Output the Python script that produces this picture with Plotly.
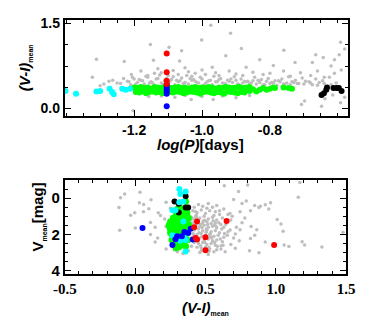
import plotly.graph_objects as go

# ---- top panel: log(P) vs (V-I)mean ----
gray_top_x = [-0.974, -0.916, -1.152, -1.097, -1.001, -0.884, -0.759, -0.592, -0.58,
              -1.311, -1.229, -1.143, -1.066, -0.97, -0.87, -0.79, -0.726, -0.675, -0.643,
              -0.62, -0.61, -0.596, -0.665, -1.06, -0.93, -0.83,
              -1.208, -1.323, -1.263, -1.13, -1.12, -1.085, -1.05, -1.04, -1.02, -1.0, -0.99,
              -0.96, -0.95, -0.92, -0.90, -0.88, -0.85, -0.82, -0.80, -0.76, -0.74, -0.71,
              -0.68, -0.66, -0.64, -0.61, -0.59, -1.18, -1.16, -1.14, -1.10, -1.07, -1.03,
              -1.24, -1.22, -1.21, -1.20, -1.19, -1.18, -1.17, -1.16, -1.15, -1.14, -1.13,
              -1.12, -1.11, -1.10, -1.09, -1.08, -1.07, -1.06, -1.05, -1.04, -1.03, -1.02,
              -1.01, -1.00, -0.99, -0.98, -0.97, -0.96, -0.95, -0.94, -0.93, -0.92, -0.91,
              -0.90, -0.89, -0.88, -0.87, -0.86, -0.85, -0.84, -0.83, -0.82, -0.81, -0.80,
              -0.79, -0.78, -0.77, -0.76, -0.75, -0.74, -0.73, -0.72, -0.70, -0.68, -0.66,
              -0.64, -0.62,
              -1.215, -1.195, -1.175, -1.155, -1.135, -1.115, -1.095, -1.075, -1.055, -1.035,
              -1.015, -0.995, -0.975, -0.955, -0.935, -0.915, -0.895, -0.875, -0.855, -0.835,
              -0.815, -0.795, -0.775, -0.755, -0.735, -0.715, -0.695, -0.675, -0.655,
              -1.205, -1.185, -1.165, -1.145, -1.125, -1.105, -1.085, -1.065, -1.045, -1.025,
              -1.005, -0.985, -0.965, -0.945, -0.925, -0.905, -0.885, -0.865, -0.845, -0.825,
              -0.805, -0.785, -0.765, -0.745, -0.725, -0.705, -0.685, -0.665, -0.645, -0.625,
              -0.605,
              -1.157, -1.032, -0.967, -1.12, -1.08, -1.0, -0.94, -0.9, -0.698, -0.707,
              -0.648, -0.638, -0.615, -0.592, -1.203, -0.58, -1.05, -0.86,
              -1.289, -1.274, -1.231, -1.25, -1.30]
gray_top_y = [1.47, 1.33, 1.13, 1.08, 1.21, 1.06, 1.03, 1.17, 1.05,
              0.87, 0.83, 0.85, 0.84, 0.73, 0.73, 0.76, 0.81, 0.81, 0.90,
              0.75, 0.86, 0.95, 0.95, 1.02, 0.93, 0.86,
              0.60, 0.55, 0.50, 0.70, 0.63, 0.67, 0.72, 0.65, 0.62, 0.68, 0.60,
              0.63, 0.58, 0.66, 0.61, 0.58, 0.64, 0.60, 0.62, 0.66, 0.57, 0.63,
              0.58, 0.66, 0.55, 0.62, 0.68, 0.66, 0.58, 0.62, 0.58, 0.60, 0.57,
              0.44, 0.48, 0.42, 0.52, 0.46, 0.50, 0.43, 0.55, 0.47, 0.41, 0.53,
              0.45, 0.49, 0.44, 0.51, 0.42, 0.47, 0.54, 0.46, 0.43, 0.50, 0.48,
              0.45, 0.52, 0.44, 0.49, 0.42, 0.47, 0.51, 0.45, 0.43, 0.48, 0.46,
              0.50, 0.42, 0.45, 0.47, 0.44, 0.49, 0.43, 0.46, 0.42, 0.48, 0.44,
              0.45, 0.41, 0.47, 0.43, 0.45, 0.42, 0.46, 0.44, 0.43, 0.45, 0.41,
              0.44, 0.42,
              0.47, 0.43, 0.49, 0.45, 0.52, 0.42, 0.48, 0.50, 0.44, 0.53,
              0.46, 0.41, 0.50, 0.47, 0.44, 0.52, 0.43, 0.48, 0.45, 0.50,
              0.42, 0.46, 0.49, 0.43, 0.47, 0.44, 0.48, 0.42, 0.46,
              0.55, 0.51, 0.57, 0.45, 0.59, 0.53, 0.56, 0.49, 0.58, 0.51,
              0.55, 0.47, 0.57, 0.53, 0.50, 0.56, 0.52, 0.48, 0.55, 0.51,
              0.53, 0.49, 0.52, 0.56, 0.50, 0.54, 0.47, 0.52, 0.49, 0.55,
              0.45,
              0.21, 0.16, 0.16, 0.22, 0.20, 0.21, 0.22, 0.19, 0.13, 0.07,
              0.04, 0.17, 0.24, 0.10, -0.04, 0.20, 0.23, 0.23,
              0.43, 0.48, 0.53, 0.45, 0.40]

green_top_x = [-1.20, -1.19, -1.18, -1.17, -1.16, -1.15, -1.14, -1.13, -1.12, -1.11,
               -1.10, -1.09, -1.08, -1.07, -1.06, -1.05, -1.04, -1.03, -1.02, -1.01,
               -1.00, -0.99, -0.98, -0.97, -0.96, -0.95, -0.94, -0.93, -0.92, -0.91,
               -0.90, -0.89, -0.88, -0.87, -0.86,
               -1.195, -1.185, -1.175, -1.165, -1.155, -1.145, -1.135, -1.125, -1.115,
               -1.105, -1.095, -1.085, -1.075, -1.065, -1.055, -1.045, -1.035, -1.025,
               -1.015, -1.005, -0.995, -0.985, -0.975, -0.965, -0.955, -0.945, -0.935,
               -0.925, -0.915, -0.905, -0.895, -0.885, -0.875,
               -0.86, -0.85, -0.84, -0.83, -0.82, -0.81, -0.80, -0.79, -0.785, -0.76,
               -0.745, -0.735]
green_top_y = [0.37, 0.36, 0.38, 0.36, 0.37, 0.35, 0.38, 0.37, 0.36, 0.38,
               0.37, 0.36, 0.37, 0.38, 0.36, 0.37, 0.35, 0.37, 0.38, 0.36,
               0.37, 0.36, 0.38, 0.37, 0.35, 0.37, 0.36, 0.38, 0.37, 0.36,
               0.37, 0.38, 0.36, 0.37, 0.38,
               0.29, 0.28, 0.30, 0.27, 0.29, 0.30, 0.28, 0.29, 0.27,
               0.30, 0.29, 0.28, 0.30, 0.29, 0.27, 0.28, 0.30, 0.29,
               0.28, 0.26, 0.29, 0.30, 0.28, 0.27, 0.29, 0.28, 0.26,
               0.30, 0.29, 0.28, 0.27, 0.29, 0.28,
               0.31, 0.34, 0.30, 0.33, 0.36, 0.33, 0.35, 0.37, 0.36, 0.37,
               0.36, 0.35]

cyan_top_x = [-1.402, -1.371, -1.311, -1.300, -1.272, -1.265, -1.260, -1.235, -1.225, -1.212]
cyan_top_y = [0.31, 0.26, 0.30, 0.31, 0.35, 0.29, 0.25, 0.35, 0.33, 0.35]

black_top_x = [-0.648, -0.641, -0.634, -0.632, -0.613, -0.604, -0.597, -0.589]
black_top_y = [0.24, 0.27, 0.33, 0.37, 0.36, 0.36, 0.36, 0.31]

red_top_x = [-1.104, -1.104, -1.104, -1.104]
red_top_y = [0.97, 0.64, 0.49, 0.43]

blue_top_x = [-1.104, -1.104, -1.104, -1.104, -1.104, -1.104]
blue_top_y = [0.42, 0.38, 0.34, 0.30, 0.26, 0.04]

# ---- bottom panel: (V-I)mean vs Vmean ----
gray_bot_x = [0.38, 0.41, 0.44, 0.47, 0.50, 0.53, 0.56, 0.60, 0.40, 0.43, 0.46, 0.49,
              0.52, 0.55, 0.58, 0.62, 0.39, 0.42, 0.45, 0.48, 0.51, 0.54, 0.57, 0.61,
              0.65, 0.40, 0.43, 0.46, 0.49, 0.52, 0.55, 0.58, 0.63, 0.39, 0.42, 0.45,
              0.48, 0.51, 0.54, 0.57, 0.60, 0.66, 0.41, 0.44, 0.47, 0.50, 0.53, 0.56,
              0.59, 0.63, 0.40, 0.43, 0.46, 0.49, 0.52, 0.55, 0.58, 0.62, 0.42, 0.45,
              0.48, 0.51, 0.54, 0.57, 0.44, 0.47, 0.50, 0.53, 0.46, 0.52, 0.58, 0.68,
              0.70, 0.72, 0.68, 0.66, 0.63, 0.55, 0.48, 0.42, 0.58, 0.45, 0.52, 0.60,
              0.40, 0.38, 0.34, 0.30, 0.28, 0.22, 0.26, 0.445, 0.475, 0.505, 0.535,
              0.565, 0.415, 0.385, 0.435, 0.465, 0.495, 0.525,
              0.395, 0.425, 0.455, 0.485, 0.515, 0.545, 0.575, 0.605, 0.635, 0.415,
              0.445, 0.475, 0.505, 0.535, 0.565, 0.595, 0.625, 0.655, 0.405, 0.435,
              0.465, 0.495, 0.525, 0.555, 0.585, 0.615, 0.645, 0.675, 0.43, 0.51,
              0.57, 0.47, 0.56, 0.61, 0.69, 0.74, 0.76, 0.64,
              0.634, 0.80, 1.171, 1.16, 0.735, 0.70, 0.76, 0.79, 0.85, 0.89, 0.925,
              0.963, 0.674, 0.746, 0.82, 0.88, 1.01, 1.037, 0.824, 0.865, 1.052,
              0.746, 0.712, 0.82, 0.85, 0.925, 1.059, 1.093, 1.187, 1.205, 1.328,
              1.478, 0.813, 0.88, 0.712, 0.612, 0.78, 0.95,
              -0.075, -0.104, -0.115, 0.035, 0.03, 0.113, 0.097, -0.032, -0.003,
              0.059, 0.164, 0.22, -0.11, 0.001, 0.109, 0.142, 0.109, 0.142, 0.22,
              0.21, 0.18, 0.06, 0.25, 0.16]
gray_bot_y = [0.9, 0.7, 0.8, 0.65, 0.85, 0.7, 0.95, 0.9, 1.05, 1.0, 1.1, 1.0,
              1.15, 1.05, 1.2, 1.1, 1.25, 1.3, 1.2, 1.35, 1.3, 1.4, 1.35, 1.45,
              1.3, 1.5, 1.45, 1.55, 1.5, 1.6, 1.55, 1.65, 1.6, 1.7, 1.75, 1.7,
              1.8, 1.75, 1.85, 1.8, 1.9, 1.85, 1.95, 2.0, 1.95, 2.05, 2.0, 2.1,
              2.05, 2.15, 2.2, 2.25, 2.2, 2.3, 2.25, 2.35, 2.3, 2.4, 2.45, 2.5,
              2.45, 2.55, 2.5, 2.6, 2.7, 2.75, 2.7, 2.8, 3.0, 3.1, 2.85, 2.55,
              2.2, 1.6, 1.2, 0.9, 0.6, 0.5, 0.45, 0.5, 0.4, 0.35, 0.3, 0.7,
              2.65, 2.9, 3.05, 2.95, 2.85, 2.8, 2.6, 1.35, 1.62, 1.88, 2.12,
              1.48, 1.15, 2.38, 0.95, 2.62, 1.22, 2.92,
              1.15, 1.6, 1.9, 1.25, 1.45, 2.2, 1.55, 2.25, 1.95, 2.0,
              2.35, 2.1, 1.7, 1.95, 2.45, 1.35, 2.6, 2.05, 1.4, 1.1,
              1.45, 2.45, 2.7, 1.25, 2.65, 1.7, 1.45, 1.75, 0.75, 0.55,
              0.75, 2.9, 2.95, 2.8, 1.0, 2.35, 1.35, 2.95,
              -0.68, -0.73, -0.86, -0.05, -0.36, 0.07, 0.3, 0.16, 0.4, 0.45, 0.36,
              0.25, 0.84, 0.75, 0.70, 0.52, 1.17, 1.42, 1.56, 1.74, 1.83,
              1.74, 1.97, 2.22, 2.05, 2.42, 2.58, 2.67, 2.40, 2.58, 2.69,
              1.88, 2.9, 3.01, 2.76, 2.63, 1.1, 0.6,
              -0.23, -0.02, 0.52, -0.32, 0.25, 0.09, 0.58, 0.94, 0.81,
              0.75, 0.81, 0.22, 1.77, 1.65, 1.34, 1.61, 2.01, 2.42, 1.56,
              1.15, 0.95, 0.35, 0.55, 2.2]

green_bot_x = [0.36, 0.33, 0.35, 0.31, 0.34, 0.37, 0.29, 0.32, 0.36, 0.27, 0.30, 0.34,
               0.38, 0.25, 0.28, 0.32, 0.36, 0.24, 0.27, 0.31, 0.35, 0.38, 0.25, 0.28,
               0.32, 0.36, 0.25, 0.29, 0.33, 0.37, 0.27, 0.31, 0.35, 0.29, 0.33, 0.37,
               0.30, 0.34, 0.31, 0.36, 0.26, 0.245, 0.39, 0.30, 0.26, 0.29, 0.35, 0.33]
green_bot_y = [0.18, 0.55, 0.65, 0.75, 0.85, 0.80, 0.95, 1.0, 1.0, 1.1, 1.15, 1.15,
               1.1, 1.3, 1.3, 1.35, 1.3, 1.5, 1.5, 1.55, 1.5, 1.45, 1.7, 1.75,
               1.7, 1.7, 1.9, 1.95, 1.9, 1.95, 2.1, 2.15, 2.1, 2.35, 2.4, 2.3,
               2.55, 2.6, 2.7, 2.65, 2.0, 1.6, 1.6, 0.6, 2.3, 2.75, 0.9, 1.25]

cyan_bot_x = [0.314, 0.359, 0.321, 0.314, 0.343, 0.265, 0.287, 0.343, 0.265,
              0.29, 0.31, 0.33, 0.35, 0.32, 0.36, 0.359]
cyan_bot_y = [-0.50, -0.36, -0.23, 0.22, 0.18, 0.67, 0.67, 1.29, 2.04,
              2.1, 2.25, 2.2, 2.15, 2.35, 2.3, 2.94]

black_bot_x = [0.359, 0.28, 0.31, 0.31, 0.359, 0.377]
black_bot_y = [-0.11, 0.18, 0.31, 0.79, 0.52, 0.52]

blue_bot_x = [0.052, 0.265, 0.287, 0.299, 0.332, 0.35, 0.377, 0.395, 0.41]
blue_bot_y = [1.65, 2.58, 2.27, 2.1, 2.1, 1.87, 1.92, 1.69, 2.28]

red_bot_x = [0.44, 0.65, 0.42, 0.43, 0.44, 0.50, 0.50, 0.988]
red_bot_y = [1.29, 1.26, 1.61, 2.2, 2.28, 2.15, 2.87, 2.58]

GRAY = "#bebebe"
SANS = "Liberation Sans"
SERIF = "Liberation Serif"

fig = go.Figure()


def add(x, y, color, size, xa, ya):
    fig.add_trace(go.Scatter(x=x, y=y, mode="markers", xaxis=xa, yaxis=ya,
                             marker=dict(color=color, size=size, line=dict(width=0)),
                             showlegend=False, hoverinfo="skip"))


add(gray_top_x, gray_top_y, GRAY, 3.5, "x", "y")
add(green_top_x, green_top_y, "#00ff00", 6, "x", "y")
add(cyan_top_x, cyan_top_y, "#00ffff", 6, "x", "y")
add(black_top_x, black_top_y, "black", 6, "x", "y")
add(blue_top_x, blue_top_y, "#0000ff", 6, "x", "y")
add(red_top_x, red_top_y, "#ff0000", 6, "x", "y")

add(gray_bot_x, gray_bot_y, GRAY, 3.5, "x2", "y2")
add(green_bot_x, green_bot_y, "#00ff00", 6.5, "x2", "y2")
add(black_bot_x, black_bot_y, "black", 6, "x2", "y2")
add(cyan_bot_x, cyan_bot_y, "#00ffff", 6, "x2", "y2")
add(blue_bot_x, blue_bot_y, "#0000ff", 6, "x2", "y2")
add(red_bot_x, red_bot_y, "#ff0000", 6, "x2", "y2")

axis_common = dict(showline=True, linecolor="black", linewidth=2, mirror="allticks",
                   ticks="inside", ticklen=6, tickwidth=1, tickcolor="black",
                   showgrid=False, zeroline=False)

sans_tick = dict(family=SANS, size=14, color="black", weight="bold")
serif_tick = dict(family=SERIF, size=15, color="black", weight="bold")

fig.update_layout(
    width=374, height=327,
    margin=dict(l=0, r=0, t=0, b=0),
    paper_bgcolor="white", plot_bgcolor="white",
    xaxis=dict(domain=[0.1497, 0.9519], anchor="y", range=[-1.404, -0.57],
               tickvals=[-1.2, -1.0, -0.8], ticktext=["-1.2", "-1.0", "-0.8"],
               minor=dict(dtick=0.05, tick0=-1.2, ticks="inside", ticklen=3, tickcolor="black"),
               tickfont=sans_tick, **axis_common),
    yaxis=dict(domain=[0.6483, 0.9511], anchor="x", range=[-0.13, 1.57],
               tickvals=[0.0, 1.5], ticktext=["0.0", "1.5"],
               minor=dict(dtick=0.375, tick0=0, ticks="inside", ticklen=3, tickcolor="black"),
               tickfont=sans_tick, **axis_common),
    xaxis2=dict(domain=[0.1497, 0.9465], anchor="y2", range=[-0.5, 1.5],
                tickvals=[-0.5, 0.0, 0.5, 1.0, 1.5], ticktext=["-0.5", "0.0", "0.5", "1.0", "1.5"],
                minor=dict(dtick=0.1, tick0=0, ticks="inside", ticklen=3, tickcolor="black"),
                tickfont=serif_tick, **axis_common),
    yaxis2=dict(domain=[0.1498, 0.4465], anchor="x2", range=[4.2, -1.0],
                tickvals=[0, 2, 4], ticktext=["0", "2", "4"],
                minor=dict(dtick=0.5, tick0=0, ticks="inside", ticklen=3, tickcolor="black"),
                tickfont=dict(family=SANS, size=15, color="black", weight="bold"),
                **axis_common),
)

title_font = dict(family=SANS, size=15, color="black")
annotations = [
    dict(x=0.037, y=0.798, textangle=-90,
         text="<b><i>(V-I)</i></b><sub><span style='font-size:7px'><b>mean</b></span></sub>"),
    dict(x=0.535, y=0.557, text="<b><i>log(P)</i>[days]</b>"),
    dict(x=0.075, y=0.33, textangle=-90,
         text="<b>V</b><sub><span style='font-size:7px'><b>mean</b></span></sub><b>[mag]</b>"),
    dict(x=0.548, y=0.045,
         text="<b><i>(V-I)</i></b><sub><span style='font-size:7px'><b>mean</b></span></sub>"),
]
for a in annotations:
    fig.add_annotation(xref="paper", yref="paper", showarrow=False, font=title_font,
                       xanchor="center", yanchor="middle", **a)

# page body has a default 8px margin; drop it so the figure sits at the window corner
fig.write_html("out.html", config={"displayModeBar": False},
               post_script="document.body.style.margin='0';")
